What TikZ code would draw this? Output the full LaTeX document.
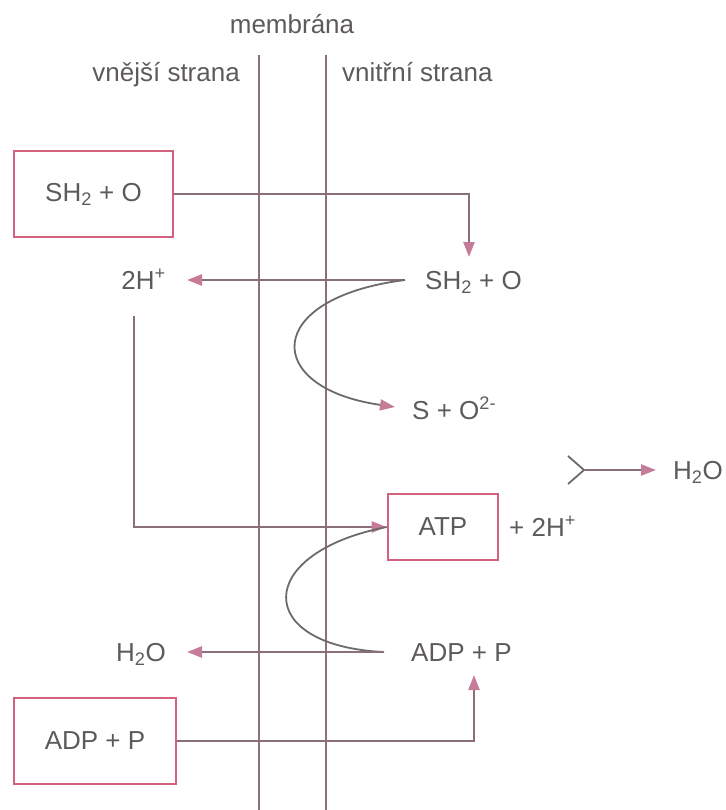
\documentclass[tikz,border=0pt]{standalone}
\usepackage{fontspec}
\setmainfont{Liberation Sans}
\usetikzlibrary{arrows.meta}
\definecolor{membc}{HTML}{8E6F7E}
\definecolor{connc}{HTML}{8A6E7C}
\definecolor{boxc}{HTML}{D4627F}
\definecolor{tipc}{HTML}{C47C98}
\definecolor{txtc}{HTML}{5E5A5C}
\definecolor{curvc}{HTML}{6E6A6C}
\begin{document}
\begin{tikzpicture}[x=1pt,y=-1pt,
  font=\fontsize{26}{30}\selectfont,
  lbl/.style={text=txtc, inner sep=0pt},
  rbox/.style={draw=boxc, line width=2.6pt, text=txtc, inner sep=0pt},
  memline/.style={draw=membc, line width=2pt},
  conline/.style={draw=connc, line width=2.4pt},
  arr/.style={-{Triangle[length=15pt,width=11pt,color=tipc]}},
  curveline/.style={draw=curvc, line width=1.8pt}]
\useasboundingbox (0,0) rectangle (725,810);
% headings
\node[lbl, anchor=base] (memb) at (292,34) {membrána};
\node[lbl, anchor=base east] (outer) at (240,82) {vnější strana};
\node[lbl, anchor=base west] (inner) at (342,82) {vnitřní strana};
% membrane
\coordinate (m1t) at (259,55); \coordinate (m1b) at (259,810);
\coordinate (m2t) at (326,55); \coordinate (m2b) at (326,810);
\draw[memline] (m1t) -- (m1b);
\draw[memline] (m2t) -- (m2b);
% boxes
\node[rbox, minimum width=159pt, minimum height=86pt] (box1) at (93.5,194) {SH\textsubscript{2} + O};
\node[rbox, minimum width=110pt, minimum height=66pt] (atp) at (443,527) {ATP};
\node[rbox, minimum width=162pt, minimum height=86pt] (box2) at (95,741) {ADP + P};
% labels
\node[lbl, anchor=base west] (sh2in) at (425,289) {SH\textsubscript{2} + O};
\node[lbl, anchor=base east] (h2p) at (166,289) {2H\textsuperscript{+}};
\node[lbl, anchor=base west] (so2) at (412,419) {S + O\textsuperscript{2-}};
\node[lbl, anchor=base west] (h2or) at (673,479) {H\textsubscript{2}O};
\node[lbl, anchor=base west] (plus2h) at (509,536) {+ 2H\textsuperscript{+}};
\node[lbl, anchor=base east] (h2ol) at (166,661) {H\textsubscript{2}O};
\node[lbl, anchor=base west] (adpin) at (411,661) {ADP + P};
% coordinates
\coordinate (a1) at (469,257);
\coordinate (c1) at (405,280);
\coordinate (t1) at (187,280);
\coordinate (s1) at (395,407);
\coordinate (v1) at (134,316);
\coordinate (c2) at (384,652);
\coordinate (t2) at (187,652);
\coordinate (a2) at (474,675);
\coordinate (ya) at (568,456);
\coordinate (yb) at (568,484);
\coordinate (yj) at (584,470);
\coordinate (yt) at (656,470);
% connectors
\draw[conline,arr] (box1.east) -| (a1);
\draw[conline,arr] (c1) -- (t1);
\draw[curveline,arr] (c1) .. controls (262,298) and (262,388) .. (s1);
\draw[conline,arr] (v1) |- (atp.west);
\draw[curveline] (c2) .. controls (253,646) and (253,553) .. (atp.west);
\draw[conline,arr] (c2) -- (t2);
\draw[conline,arr] (box2.east) -| (a2);
\draw[curveline] (ya) -- (yj) -- (yb);
\draw[conline,arr] (yj) -- (yt);
\end{tikzpicture}
\end{document}
